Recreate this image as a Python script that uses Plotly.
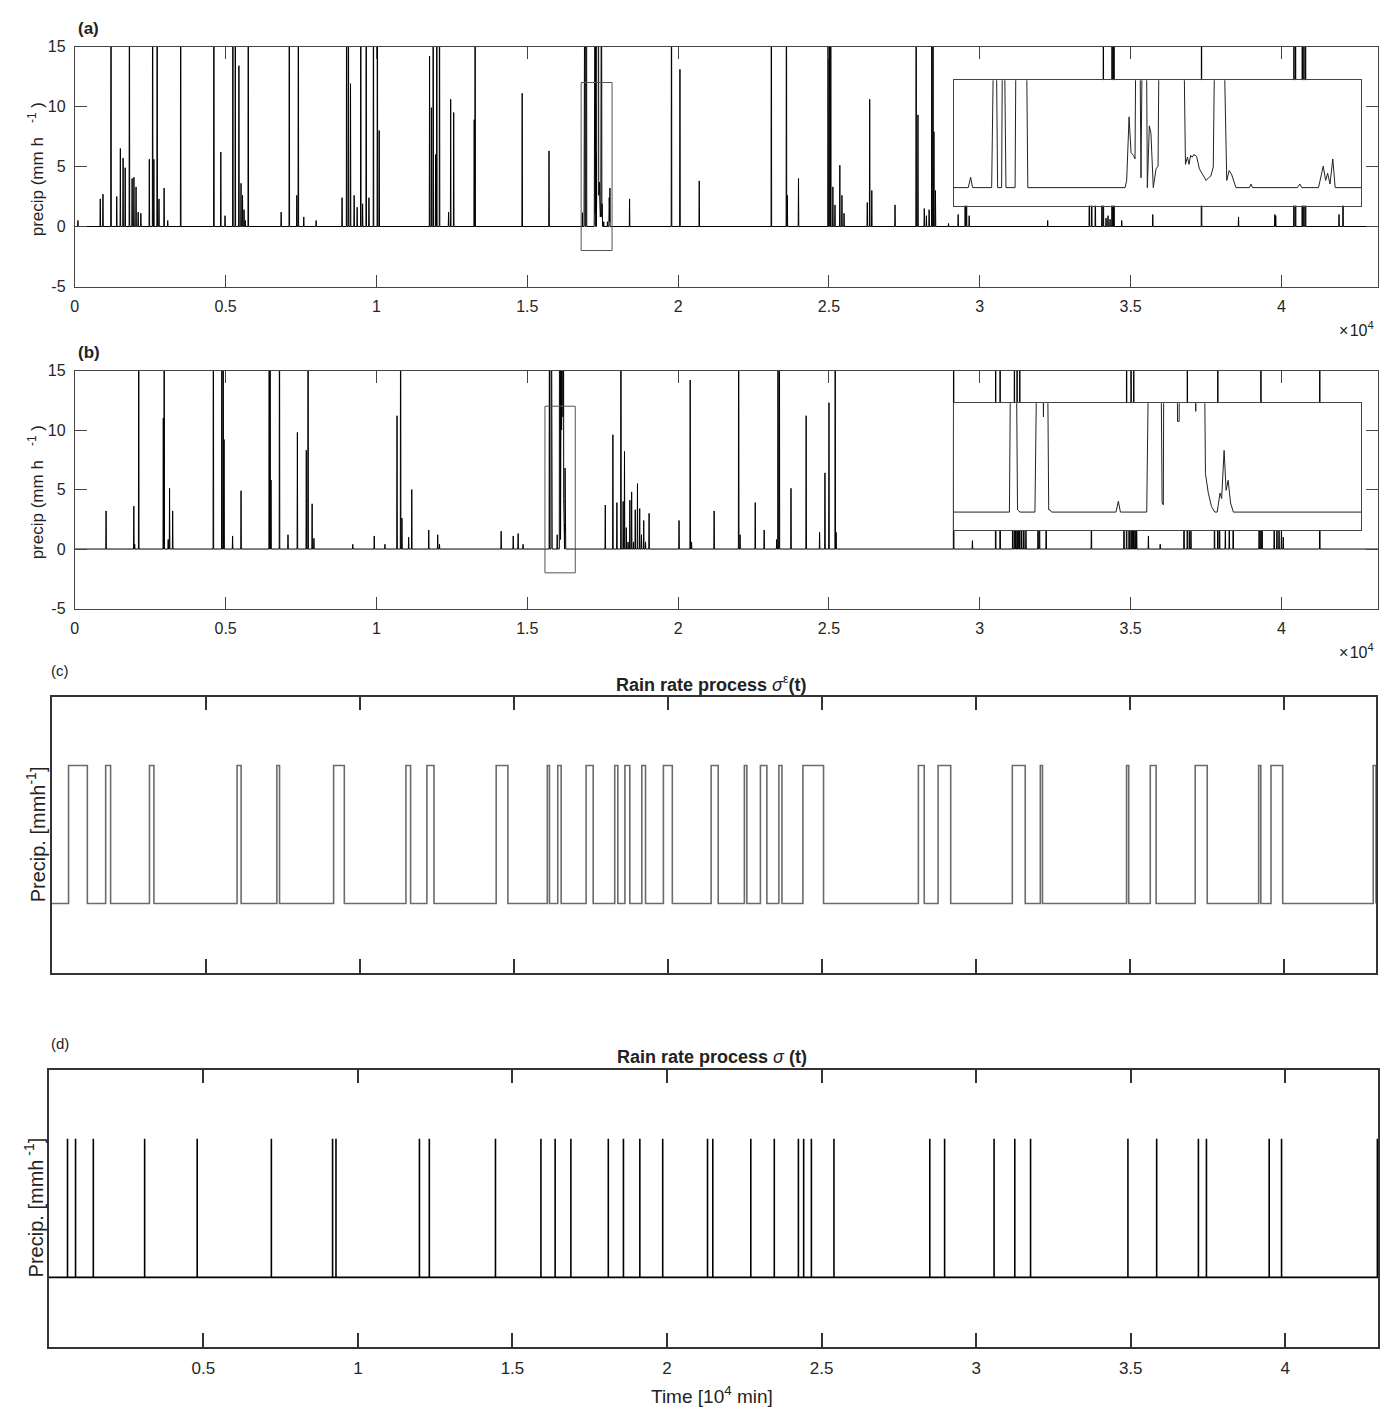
import plotly.graph_objects as go

W, H = 1400, 1424
F = 30.0  # value above the plotted range (clipped at the top of the axis)

# ---------------- panel (a) data (time in minutes, precip in mm/h) -------------
A_SPIKE_T = [104, 844, 933, 1200, 1390, 1510, 1600, 1670, 1810, 1900, 1960, 2030, 2100, 2190,
             2470, 2580, 2620, 2730, 2790, 2960, 3080, 3510, 4610, 4840, 4980, 5240, 5320, 5440,
             5510, 5560, 5610, 5650, 5750, 6840, 7110, 7360, 7410, 7590, 8000, 8860, 9010, 9070,
             9140, 9260, 9360, 9480, 9540, 9660, 9750, 9900, 10030, 10090, 11760, 11820, 11880,
             11960, 12000, 12090, 12390, 12460, 12560, 13240, 13270, 14830, 15720, 18390, 19780,
             20060, 20700, 23090, 23590, 23620, 23990, 24970, 25015, 25060, 25130, 25200, 25360,
             25430, 25500, 26270, 26350, 26420, 27190, 27890, 27950, 28160, 28230, 28320, 28410,
             28450, 28480, 28530, 28963, 29283, 29516, 29560, 29648, 32250, 33631, 33710, 33830,
             34050, 34096, 34185, 34250, 34318, 34384, 34420, 34450, 34705, 35734, 37350, 38577,
             39780, 39810, 40414, 40468, 40690, 40745, 40800, 41908, 42041]
A_SPIKE_V = [0.5, 2.3, 2.7, F, 2.5, 6.5, 5.7, 4.9, F, 4.0, 4.1, 3.3, 1.2, 1.1,
             5.6, F, 5.6, F, 2.3, 3.2, 0.5, F, F, 6.2, 0.9, F, F, 13.4,
             3.6, 2.6, 1.4, 0.5, F, 1.2, F, 2.6, F, 0.8, 0.5, 2.4, F, F,
             11.9, 2.6, 1.6, F, 1.9, F, 2.4, F, F, 8.0, 14.2, 9.9, F,
             6.0, F, F, 1.2, 10.6, 9.5, 8.9, F, 11.1, 6.3, 2.3, F,
             13.1, 3.8, F, F, 2.6, 4.0, F, F, F, 3.3, 1.8, 5.1,
             2.6, 1.1, 2.0, 10.6, 3.0, 1.8, F, 9.3, 1.5, 0.9, 1.4, F,
             F, 7.9, 3.0, 0.25, 1.0, 8.0, 5.0, 0.9, 0.5, 6.0, 9.0, 4.0,
             5.0, F, 0.7, 0.9, 0.6, F, F, F, 0.5, 1.0, F, 0.8,
             1.0, 0.9, F, F, F, F, F, 1.0, 6.0]
# detailed record inside the zoom window of panel (a)
A_DET_T = [16821, 16827, 16832, 16880, 16889, 16895, 16905, 16909, 16916, 16939, 16943, 16965,
           16971, 17216, 17220, 17226, 17231, 17237, 17241, 17245, 17251, 17256, 17262, 17268,
           17272, 17277, 17281, 17287, 17294, 17299, 17304, 17360, 17368, 17373, 17377, 17381,
           17385, 17389, 17396, 17403, 17411, 17420, 17426, 17432, 17438, 17445, 17459, 17472,
           17478, 17484, 17495, 17529, 17533, 17537, 17650, 17656, 17661, 17703, 17715, 17721,
           17726, 17732, 17739, 17745]
A_DET_V = [0, 1.15, 0, 0, F, 0, 0, F, 0, 0, F, F,
           0, 0, 0.8, 7.9, 3.9, 3.6, 3.2, F, F, 1.1, F, F,
           0, 6.9, 6.1, 0, 2.1, 2.4, F, F, 2.6, 3.4, 2.6, 3.6,
           3.4, 3.7, 3.5, 2.1, 1.5, 0.8, 1.1, 1.3, 2.3, F, F, 0.8,
           1.9, 1.5, 0, 0, 0.4, 0, 0, 0.4, 0, 0, 2.4, 0.8,
           1.6, 0.4, 3.2, 0]
A_ZOOM_T = [16785, 17810]
ZOOM_V = [-2, 12]

# ---------------- panel (b) data ----------------
B_SPIKE_T = [1037, 1956, 1985, 2119, 2933, 2963, 3096, 3141, 3244, 4593, 4874, 4919, 4948, 5230,
             5511, 6444, 6474, 6504, 6785, 7067, 7378, 7674, 7733, 7867, 7926, 9215, 9926, 10281,
             10681, 10800, 10844, 11067, 11170, 11733, 12030, 12089, 14133, 14533, 14696, 14859,
             17585, 17837, 17970, 18104, 18178, 18222, 18281, 18341, 18400, 18459, 18519, 18578,
             18652, 18726, 18785, 18859, 18919, 19037, 20030, 20400, 20444, 21193, 22007, 22052,
             22556, 22852, 23267, 23311, 23356, 23741, 24244, 24689, 24867, 25000, 25207, 25237,
             29133, 29756, 30526, 30674, 31090, 31148, 31190, 31237, 31280, 31326, 31390, 31460,
             31530, 31930, 31980, 32200, 33700, 34780, 34867, 34950, 35015, 35060, 35104, 35150,
             35200, 35590, 35980, 36770, 36880, 36950, 37000, 37780, 37890, 37950, 38140, 38270,
             38400, 39260, 39320, 39360, 39760, 39850, 39920, 40000, 40060, 41270]
B_SPIKE_V = [3.2, 3.6, 0.4, F, 11.0, F, 0.8, 5.1, 3.2, F, F, F, 9.2, 1.1,
             4.9, F, F, 5.8, F, 1.2, 9.8, 8.3, F, 3.8, 0.9, 0.4, 1.1, 0.4,
             11.2, F, 2.6, 1.0, 5.0, 1.6, 1.2, 0.4, 1.5, 1.1, 1.3, 0.4,
             3.7, 9.6, 3.9, F, 4.0, 8.2, 1.8, 0.6, 4.1, 4.8, 0.6, 3.3,
             5.5, 3.4, 1.2, 2.4, 0.6, 3.0, 2.4, 14.2, 0.6, 3.2, F, 1.2,
             3.9, 1.6, 0.8, F, F, 5.1, 11.2, 1.4, 6.4, 12.3, F, 1.4,
             F, 0.7, F, F, 5.0, F, 8.0, F, 10.0, F, 3.0, 6.0,
             2.0, 9.0, 7.0, 4.0, 3.0, 5.0, F, 9.0, F, 7.0, F, 4.0,
             2.0, 1.1, 0.4, 8.0, F, 4.0, 1.5, 5.0, F, 3.0, 2.0, 4.0,
             6.0, 5.0, F, 3.0, 4.0, 6.0, 3.0, 2.0, 1.0, F]
B_DET_T = [15722, 15727, 15737, 15742, 15748, 15785, 15793, 15801, 15806, 15810, 15814, 15819,
           15822, 15826, 15985, 15991, 15996, 16061, 16069, 16094, 16099, 16102, 16104, 16135,
           16137, 16141, 16143, 16180, 16182, 16184, 16201, 16206, 16213, 16221, 16229, 16235,
           16242, 16246, 16252, 16257, 16262, 16268, 16275]
B_DET_V = [0, F, F, 0.25, 0, 0, F, F, 10.5, F, F, 0.25,
           0.25, 0, 0, 1.2, 0, 0, F, F, 1.0, 0.8, F, F,
           10.0, 10.0, F, F, 11.1, F, F, 4.25, 2.1, 0.6, 0, 0,
           2.1, 1.5, 6.8, 2.4, 3.5, 1.0, 0]
B_ZOOM_T = [15585, 16590]

T_END = 43200
AB_TICKVALS = [0, 5000, 10000, 15000, 20000, 25000, 30000, 35000, 40000]
AB_TICKTEXT = ["0", "0.5", "1", "1.5", "2", "2.5", "3", "3.5", "4"]
AB_YTICKS = [-5, 0, 5, 10, 15]
AB_YTEXT = ["-5", "0", "5", "10", "15"]

# ---------------- panel (c): rain-on / rain-off pulses (10^4 min) -------------
C_RISE = [0.0544, 0.1749, 0.3171, 0.6016, 0.7308, 0.9151, 1.150, 1.218, 1.443, 1.609, 1.643,
          1.735, 1.828, 1.861, 1.916, 1.986, 2.141, 2.249, 2.301, 2.361, 2.439, 2.814, 2.878,
          3.119, 3.210, 3.490, 3.567, 3.713, 3.919, 3.959, 4.291]
C_FALL = [0.1154, 0.1909, 0.3316, 0.6147, 0.7395, 0.9499, 1.165, 1.241, 1.481, 1.616, 1.654,
          1.758, 1.838, 1.877, 1.928, 2.015, 2.164, 2.257, 2.322, 2.371, 2.506, 2.833, 2.919,
          3.161, 3.217, 3.497, 3.586, 3.752, 3.926, 3.997, 4.300]

# ---------------- panel (d): impulses (10^4 min) ----------------
D_T = [0.0605, 0.0865, 0.144, 0.310, 0.480, 0.720, 0.918, 0.929, 1.199, 1.231, 1.445, 1.592,
       1.638, 1.689, 1.810, 1.859, 1.912, 1.986, 2.131, 2.148, 2.271, 2.347, 2.425, 2.442,
       2.467, 2.540, 2.850, 2.898, 3.058, 3.125, 3.176, 3.491, 3.584, 3.719, 3.745, 3.948,
       3.988, 4.298]
CD_TICKS = [0.5, 1, 1.5, 2, 2.5, 3, 3.5, 4]
CD_END = 4.3

# page placement correction (observed render offset/scale of the page)
SX, OX = 0.997, 12.2
SY, OY = 0.988, 16.5


def build_series(st, sv, dt, dv, hw=10):
    pts = [(0.0, 0.0), (float(T_END), 0.0)]
    for t, v in zip(st, sv):
        pts += [(t - hw, 0.0), (t, v), (t + hw, 0.0)]
    pts += list(zip(dt, dv))
    pts.sort(key=lambda p: p[0])
    return [p[0] for p in pts], [p[1] for p in pts]


def build_steps(rise, fall):
    xs, ys = [0.0], [0.0]
    for r, f in zip(rise, fall):
        xs += [r, r, f, f]
        ys += [0, 1, 1, 0]
    if xs[-1] < CD_END:
        xs.append(CD_END); ys.append(0)
    return xs, ys


def build_impulses(ts):
    xs, ys = [0.0], [0.0]
    for t in ts:
        xs += [t, t, t]
        ys += [0, 1, 0]
    if xs[-1] < CD_END:
        xs.append(CD_END); ys.append(0)
    return xs, ys


def fx(px):
    return ((px - OX) / SX) / W


def fy(py):
    return 1 - ((py - OY) / SY) / H


def dom_x(p0, p1):
    return [fx(p0), fx(p1)]


def dom_y(p0, p1):
    return [fy(p1), fy(p0)]


ax_x, ay = build_series(A_SPIKE_T, A_SPIKE_V, A_DET_T, A_DET_V)
bx_x, by = build_series(B_SPIKE_T, B_SPIKE_V, B_DET_T, B_DET_V)
cx, cy = build_steps(C_RISE, C_FALL)
dx_, dy_ = build_impulses(D_T)

fig = go.Figure()
LINE = dict(color="black", width=1)

fig.add_trace(go.Scatter(x=ax_x, y=ay, mode="lines", line=LINE, xaxis="x", yaxis="y"))
fig.add_trace(go.Scatter(x=bx_x, y=by, mode="lines", line=LINE, xaxis="x2", yaxis="y2"))

# insets: white background then the same record, zoomed
for (zt, xs, ys, xa, ya) in [(A_ZOOM_T, ax_x, ay, "x3", "y3"), (B_ZOOM_T, bx_x, by, "x4", "y4")]:
    fig.add_trace(go.Scatter(x=[zt[0], zt[1], zt[1], zt[0], zt[0]],
                             y=[ZOOM_V[0], ZOOM_V[0], ZOOM_V[1], ZOOM_V[1], ZOOM_V[0]],
                             mode="lines", fill="toself", fillcolor="white",
                             line=dict(width=0, color="white"), xaxis=xa, yaxis=ya))
    fig.add_trace(go.Scatter(x=xs, y=ys, mode="lines", line=dict(color="#222", width=1),
                             xaxis=xa, yaxis=ya))

fig.add_trace(go.Scatter(x=cx, y=cy, mode="lines", line=dict(color="#6b6b6b", width=1.6),
                         xaxis="x5", yaxis="y5"))
fig.add_trace(go.Scatter(x=dx_, y=dy_, mode="lines", line=dict(color="black", width=1.6),
                         xaxis="x6", yaxis="y6"))

FONT = "Liberation Sans, Arial, sans-serif"
TF = dict(family=FONT, size=16, color="#262626")
AXL = dict(showline=True, linecolor="#444", linewidth=1, mirror="ticks", ticks="inside",
           ticklen=12, tickcolor="#444", tickwidth=1, showgrid=False, zeroline=False,
           tickfont=TF)

lay = dict(width=W, height=H, margin=dict(l=0, r=0, t=0, b=0), autosize=False,
           paper_bgcolor="white", plot_bgcolor="white", showlegend=False,
           font=dict(family=FONT, color="#222"))

for i, (py0, py1) in zip(["", "2"], [(47, 287), (371, 609)]):
    lay["xaxis" + i] = dict(AXL, domain=dom_x(75, 1378), range=[0, T_END], tickvals=AB_TICKVALS,
                            ticktext=AB_TICKTEXT, anchor="y" + i, ticklabelstandoff=5)
    lay["yaxis" + i] = dict(AXL, domain=dom_y(py0, py1), range=[-5, 15], tickvals=AB_YTICKS,
                            ticktext=AB_YTEXT, anchor="x" + i, ticklabelstandoff=5)

INS = dict(showline=True, linecolor="#444", linewidth=1, mirror=True, ticks="",
           showticklabels=False, showgrid=False, zeroline=False)
lay["xaxis3"] = dict(INS, domain=dom_x(954, 1361), range=A_ZOOM_T, anchor="y3")
lay["yaxis3"] = dict(INS, domain=dom_y(80.7, 206), range=ZOOM_V, anchor="x3")
lay["xaxis4"] = dict(INS, domain=dom_x(954, 1361), range=B_ZOOM_T, anchor="y4")
lay["yaxis4"] = dict(INS, domain=dom_y(403.7, 530.7), range=ZOOM_V, anchor="x4")

CDX = dict(showline=True, linecolor="#333", linewidth=1.5, mirror="ticks", ticks="inside",
           ticklen=14, tickcolor="#333", tickwidth=1.5, showgrid=False, zeroline=False,
           range=[0, CD_END], tickvals=CD_TICKS)
CDY = dict(showline=True, linecolor="#333", linewidth=1.5, mirror=True, ticks="",
           showticklabels=False, showgrid=False, zeroline=False, range=[-0.5, 1.5])
lay["xaxis5"] = dict(CDX, domain=dom_x(52, 1376), anchor="y5", showticklabels=False)
lay["yaxis5"] = dict(CDY, domain=dom_y(697, 973), anchor="x5")
lay["xaxis6"] = dict(CDX, domain=dom_x(49, 1378), anchor="y6", showticklabels=True,
                     ticktext=["0.5", "1", "1.5", "2", "2.5", "3", "3.5", "4"],
                     tickfont=dict(family=FONT, size=17, color="#262626"), ticklabelstandoff=5)
lay["yaxis6"] = dict(CDY, domain=dom_y(1070, 1347), anchor="x6")

fig.update_layout(**lay)

for xr, yr, zt in [("x", "y", A_ZOOM_T), ("x2", "y2", B_ZOOM_T)]:
    fig.add_shape(type="rect", xref=xr, yref=yr, x0=zt[0], x1=zt[1], y0=ZOOM_V[0], y1=ZOOM_V[1],
                  line=dict(color="#555", width=1), fillcolor="rgba(0,0,0,0)")


def ann(text, px, py, size=15, angle=0, xanchor="center", bold=False, color="#222"):
    if bold:
        text = "<b>" + text + "</b>"
    fig.add_annotation(text=text, x=fx(px), y=fy(py), xref="paper", yref="paper",
                       showarrow=False, textangle=angle, xanchor=xanchor, yanchor="middle",
                       font=dict(family=FONT, size=size, color=color))


ann("(a)", 89, 29, size=17, bold=True)
ann("(b)", 89, 353, size=17, bold=True)
ann("\u00d7\u200a10<sup>4</sup>", 1357, 329, size=16)
ann("\u00d7\u200a10<sup>4</sup>", 1357, 651, size=16)
ann("precip (mm h\u00a0\u00a0\u00a0<sup>-1</sup>\u00a0)", 36, 170, size=17, angle=-90)
ann("precip (mm h\u00a0\u00a0\u00a0<sup>-1</sup>\u00a0)", 36, 493, size=17, angle=-90)
ann("(c)", 60, 671, size=15)
ann("(d)", 60, 1044, size=15)
ann("<b>Rain rate process </b><i>\u03c3</i><sup>\u03b5</sup><b>(t)</b>", 712, 684, size=18)
ann("<b>Rain rate process </b><i>\u03c3</i><b> (t)</b>", 712, 1057, size=18)
ann("Precip. [mmh<sup>-1</sup>]", 36, 835, size=20, angle=-90)
ann("Precip. [mmh<sup> -1</sup>]", 34, 1208, size=20, angle=-90)
ann("Time [10<sup>4</sup> min]", 712, 1395, size=19)

fig.write_html("out.html")
